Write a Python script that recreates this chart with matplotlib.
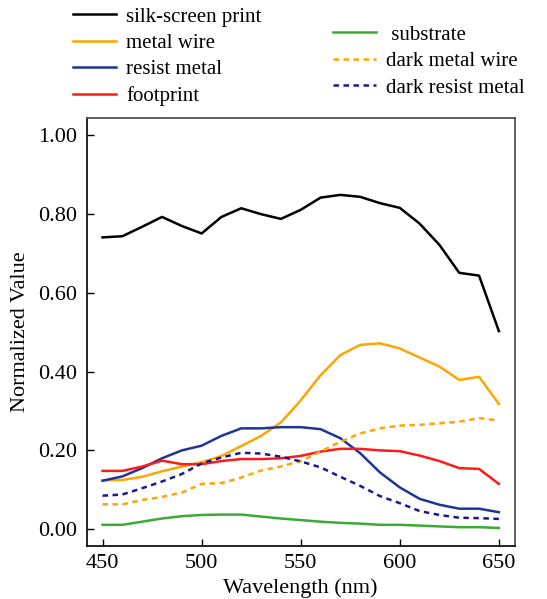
import matplotlib
matplotlib.use("Agg")
import matplotlib.pyplot as plt
from matplotlib.lines import Line2D

wavelength = [450, 460, 470, 480, 490, 500, 510, 520, 530, 540, 550,
              560, 570, 580, 590, 600, 610, 620, 630, 640, 650]

silk_screen = [0.741, 0.744, 0.768, 0.793, 0.770, 0.751, 0.793, 0.815, 0.800, 0.788, 0.811,
               0.842, 0.849, 0.844, 0.828, 0.816, 0.776, 0.722, 0.651, 0.644, 0.503]
metal_wire = [0.124, 0.125, 0.133, 0.147, 0.159, 0.170, 0.186, 0.211, 0.237, 0.271, 0.327,
              0.391, 0.442, 0.468, 0.472, 0.459, 0.436, 0.413, 0.379, 0.387, 0.318]
resist_metal = [0.123, 0.134, 0.155, 0.180, 0.200, 0.212, 0.237, 0.256, 0.256, 0.259, 0.259,
                0.254, 0.231, 0.193, 0.144, 0.106, 0.077, 0.062, 0.052, 0.052, 0.043]
footprint = [0.148, 0.148, 0.159, 0.174, 0.165, 0.165, 0.173, 0.178, 0.178, 0.180, 0.186,
             0.197, 0.204, 0.204, 0.200, 0.198, 0.187, 0.173, 0.155, 0.153, 0.115]
substrate = [0.011, 0.011, 0.019, 0.027, 0.033, 0.036, 0.037, 0.037, 0.032, 0.027, 0.023,
             0.019, 0.016, 0.014, 0.011, 0.011, 0.009, 0.007, 0.005, 0.005, 0.003]
dark_metal_wire = [0.063, 0.063, 0.074, 0.082, 0.093, 0.115, 0.117, 0.131, 0.149, 0.159, 0.173,
                   0.197, 0.222, 0.243, 0.256, 0.263, 0.265, 0.269, 0.273, 0.282, 0.276]
dark_resist_metal = [0.085, 0.088, 0.104, 0.121, 0.140, 0.167, 0.182, 0.194, 0.192, 0.184, 0.172,
                     0.157, 0.133, 0.110, 0.084, 0.066, 0.046, 0.036, 0.029, 0.028, 0.026]

yticks = [0.0, 0.2, 0.4, 0.6, 0.8, 1.0]
xticks = [450, 500, 550, 600, 650]

plt.rcParams['font.family'] = ['Liberation Serif', 'DejaVu Serif']

fig = plt.figure(figsize=(5.47, 5.99), dpi=100)
ax = fig.add_axes([0.1585, 0.089, 0.7825, 0.7145])

lw = 1.8
dash = (0, (2.2, 1.8))
c_black = 'black'
c_orange = '#FFA500'
c_blue = '#1F3596'
c_red = '#FF1A1A'
c_green = '#3AAA35'
c_navy = '#1A1A8F'

ax.plot(wavelength, silk_screen, color=c_black, lw=lw)
ax.plot(wavelength, metal_wire, color=c_orange, lw=lw)
ax.plot(wavelength, resist_metal, color=c_blue, lw=lw)
ax.plot(wavelength, footprint, color=c_red, lw=lw)
ax.plot(wavelength, substrate, color=c_green, lw=lw)
ax.plot(wavelength, dark_metal_wire, color=c_orange, lw=lw, linestyle=dash)
ax.plot(wavelength, dark_resist_metal, color=c_navy, lw=lw, linestyle=dash)

ax.set_xlim(442, 658)
ax.set_ylim(-0.042, 1.045)
ax.set_xticks(xticks)
ax.set_yticks(yticks)
ax.set_yticklabels([f"{v:.2f}" for v in yticks])
ax.tick_params(direction='in', length=5, width=1.0, labelsize=16, pad=6)
ax.tick_params(axis='y', pad=7)
for s in ax.spines.values():
    s.set_linewidth(1.2)
    s.set_color('#444444')
ax.spines['left'].set_color('black')
ax.spines['bottom'].set_color('black')

ax.set_xlabel('Wavelength (nm)', fontsize=16, labelpad=4)
ax.set_ylabel('Normalized Value', fontsize=16, labelpad=6)

left_handles = [Line2D([], [], color=c_black, lw=lw),
                Line2D([], [], color=c_orange, lw=lw),
                Line2D([], [], color=c_blue, lw=lw),
                Line2D([], [], color=c_red, lw=lw)]
left_labels = ['silk-screen print', 'metal wire', 'resist metal', 'footprint']
right_handles = [Line2D([], [], color=c_green, lw=lw),
                 Line2D([], [], color=c_orange, lw=lw, linestyle=dash),
                 Line2D([], [], color=c_navy, lw=lw, linestyle=dash)]
right_labels = [' substrate', 'dark metal wire', 'dark resist metal']

leg_kw = dict(frameon=False, fontsize=15, handlelength=2.05, handletextpad=0.5,
              labelspacing=0.33, borderpad=0, borderaxespad=0)
fig.legend(left_handles, left_labels, loc='upper left',
           bbox_to_anchor=(73 / 547, 1 - 7 / 599), **leg_kw)
fig.legend(right_handles, right_labels, loc='upper left',
           bbox_to_anchor=(333 / 547, 1 - 25 / 599), **leg_kw)

fig.savefig('out.png', dpi=100)
